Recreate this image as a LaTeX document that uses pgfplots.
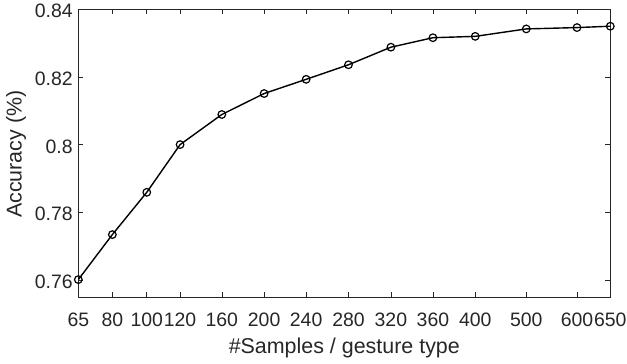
\documentclass[border=0pt]{standalone}
\usepackage{pgfplots}
\pgfplotsset{compat=1.18}
\usepackage{fontspec}
\setmainfont{Liberation Sans}
\definecolor{axgray}{rgb}{0.15,0.15,0.15}
\begin{document}
\begin{tikzpicture}
\begin{axis}[
  name=myaxis,
  scale only axis,
  width=531.7bp, height=287.4bp,
  xmin=0, xmax=531.7,
  ymin=0.755, ymax=0.84,
  xtick={0,34,68.4,101.7,143.4,185.7,227.7,270,312.4,354.4,396.7,447.7,498.4,531.7},
  xticklabels={65,80,100,120,160,200,240,280,320,360,400,500,600,650},
  ytick={0.76,0.78,0.80,0.82,0.84},
  yticklabels={0.76,0.78,0.8,0.82,0.84},
  tick align=inside,
  major tick length=5bp,
  axis line style={axgray, line width=0.6bp},
  every tick/.style={axgray, line width=0.6bp},
  tick label style={font=\fontsize{19.5}{22}\selectfont, text=axgray},
  label style={font=\fontsize{21.5}{24}\selectfont, text=axgray},
  xticklabel style={inner xsep=0pt, inner ysep=3bp, yshift=-12.5bp},
  yticklabel style={inner xsep=5.5bp, yshift=-2bp},
  xlabel={\#Samples / gesture type},
  ylabel={Accuracy (\%)},
  xlabel style={at={(axis description cs:0.5,-0.1795)}, anchor=center},
  ylabel style={at={(axis description cs:-0.117,0.4965)}, anchor=center, rotate=0},
  /pgf/number format/assume math mode=true,
]
\addplot[black, line width=1.4bp, mark=o, mark size=3.8bp, mark options={line width=1.2bp}] coordinates {
(0,0.7601) (34,0.7734) (68.4,0.7859) (101.7,0.8000) (143.4,0.8089) (185.7,0.8151) (227.7,0.8193) (270,0.8236) (312.4,0.8288) (354.4,0.8316) (396.7,0.8320) (447.7,0.8342) (498.4,0.8346) (531.7,0.8350)
};
\end{axis}
\pgfresetboundingbox
\path ([shift={(-78.3bp,-66.3bp)}]myaxis.south west) rectangle ([shift={(16.7bp,9.3bp)}]myaxis.north east);
\end{tikzpicture}
\end{document}
